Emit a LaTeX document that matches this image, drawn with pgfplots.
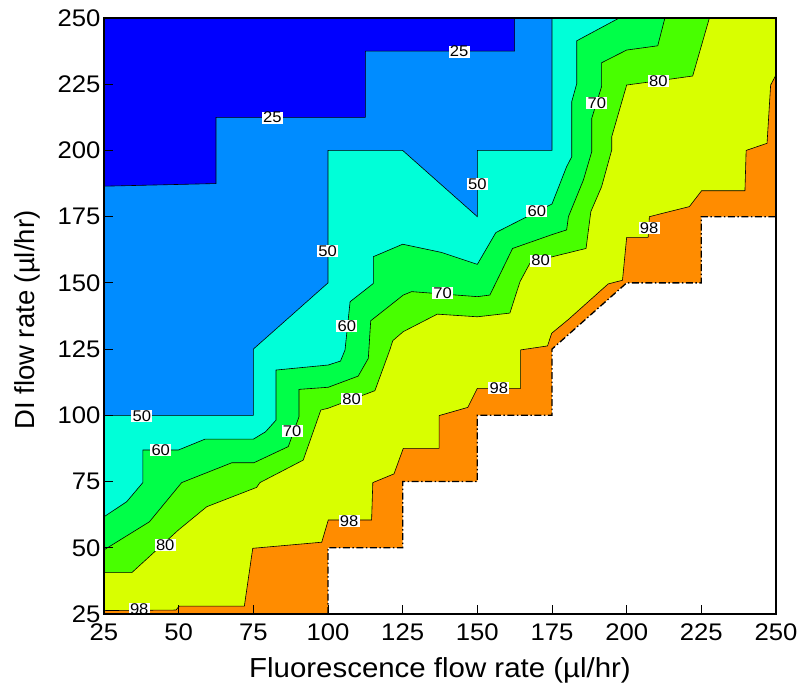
\documentclass[border=0pt]{standalone}
\usepackage{fontspec}
\setmainfont{Liberation Sans}
\newfontfamily\wide[FakeStretch=1.07]{Liberation Sans}
\usepackage{pgfplots}
\pgfplotsset{compat=1.18}
\definecolor{cA}{RGB}{0,0,255}
\definecolor{cB}{RGB}{0,140,255}
\definecolor{cC}{RGB}{0,255,216}
\definecolor{cD}{RGB}{0,255,72}
\definecolor{cE}{RGB}{72,255,0}
\definecolor{cF}{RGB}{216,255,0}
\definecolor{cG}{RGB}{255,140,0}
\begin{document}
\begin{tikzpicture}
\path[use as bounding box] (-104pt,-77pt) rectangle (698pt,614pt);
\begin{axis}[
  at={(0,0)}, anchor=south west,
  scale only axis, width=672pt, height=596pt,
  xmin=25, xmax=250, ymin=25, ymax=250,
  xtick={25,50,...,250}, ytick={25,50,...,250},
  tick align=inside, xtick pos=bottom, ytick pos=left,
  major tick length=9pt,
  axis line style={line width=1.2pt},
  every tick/.style={line width=1pt, black},
  axis on top,
  ticklabel style={font=\wide\fontsize{24}{24}\selectfont},
  xticklabel style={yshift=-6pt},
  /pgf/number format/assume math mode=true,
  xlabel={Fluorescence flow rate (µl/hr)},
  ylabel={DI flow rate (µl/hr)},
  xlabel style={font=\wide\fontsize{27.5}{27.5}\selectfont, at={(axis description cs:0.5,-0.094)}, anchor=center},
  ylabel style={font=\fontsize{27.5}{27.5}\selectfont, at={(axis description cs:-0.114,0.493)}, anchor=center},
  clip=true,
]
% level < 25
\addplot[fill=cA, draw=none] coordinates {(25,25) (250,25) (250,250) (25,250)} -- cycle;
% level 25
\addplot[fill=cB, draw=black, line width=0.6pt] coordinates {
(162.5,250) (162.5,237.5) (112.5,237.5) (112.5,212.5) (62.5,212.5) (62.5,187.5) (25,186.5)
(25,25) (250,25) (250,250)} -- cycle;
% level 50
\addplot[fill=cC, draw=black, line width=0.6pt] coordinates {
(175,250) (175,200) (150,200) (150,175) (125,200) (100,200) (100,150) (75,125) (75,100) (25,100)
(25,25) (250,25) (250,250)} -- cycle;
% level 60
\addplot[fill=cD, draw=black, line width=0.6pt] coordinates {
(197.5,250) (183.3,241.4) (183.3,225.3) (181.6,218.4) (181.6,197.6) (179.9,193.9) (175,179.8)
(156.2,169) (150,157) (138,161.5) (125,164.6) (115.2,159.9) (115.2,149.8) (107.4,142.9)
(105.7,124.7) (104.2,120.5) (100.1,119) (82.6,117.1) (82.6,98.2) (79.1,93.8) (75,91) (58.8,91)
(49.9,86.9) (38,86.9) (38,74.6) (32.6,67.4) (25,61.7)
(25,25) (250,25) (250,250)} -- cycle;
% level 70
\addplot[fill=cE, draw=black, line width=0.6pt] coordinates {
(212.8,250) (210.4,239.5) (200,237.9) (191.6,233.1) (191.6,224.1) (188.3,212.1) (188.3,199.5)
(185.5,188.8) (180.5,175) (179.9,170) (175.2,168.3) (161.8,163) (154.2,145.4) (150,144.8)
(128,146.7) (125.2,145.4) (114.3,135.7) (113.5,121.5) (110.1,114.8) (100.1,110.6) (90.3,109.8)
(90.3,99.5) (86.7,88.2) (75.2,82.1) (67.8,82.1) (51,74.6) (40.2,59.8) (25,49.2)
(25,25) (250,25) (250,250)} -- cycle;
% level 80
\addplot[fill=cF, draw=black, line width=0.6pt] coordinates {
(227.7,250) (222.1,228.1) (210,226.2) (200,224.7) (195,205.2) (195,200.2) (191.6,186.3)
(188,176.9) (186.4,163) (175.2,159.9) (167.6,157.4) (164.3,150.5) (160.9,138.6) (150,137.2)
(136.6,138.2) (125.2,131.6) (121.7,128.2) (120.7,124.7) (115.7,109.3) (100.1,102.7) (97.6,102)
(91.7,83.1) (77.2,74.6) (76.1,72.8) (59.4,65.5) (49.9,56.7) (34.3,40.6) (25,40.6)
(25,25) (250,25) (250,250)} -- cycle;
% level 98
\addplot[fill=cG, draw=black, line width=0.6pt] coordinates {
(250,228.5) (248.2,224.7) (247,202.7) (240,200) (239.6,184.8) (225.1,184.8) (221,178.8)
(207.6,175) (207.2,167.2) (200,167.2) (198.6,151) (193.8,149.6) (180.5,136.2) (174.9,131)
(173.5,126.2) (164.5,124.7) (164.5,110.2) (150,110.2) (146.8,103) (137.2,99.9) (137.2,87.5)
(125.2,87.5) (122.1,77.9) (115,74.6) (114.6,60.5) (100.1,60.5) (97.9,52.1) (74.8,49.8) (72,28)
(50.2,28) (49.1,26.5) (25,26.3)
(25,25) (250,25)} -- cycle;
% outside the measured domain
\addplot[fill=white, draw=none] coordinates {
(100,25) (100,50) (125,50) (125,75) (150,75) (150,100) (175,100) (175,125) (200,150) (225,150)
(225,175) (250,175) (250,25)} -- cycle;
\addplot[black, line width=1.3pt, dash pattern=on 7pt off 2.5pt on 1.5pt off 2.5pt] coordinates {
(100,25) (100,50) (125,50) (125,75) (150,75) (150,100) (175,100) (175,125) (200,150) (225,150)
(225,175) (250,175) (250,228.5)};
% contour labels
\begin{scope}[every node/.style={fill=white, inner xsep=1.3pt, inner ysep=0.5pt, font=\wide\fontsize{15.5}{15.5}\selectfont}]
\node at (axis cs:143.9,237.3) {25};
\node at (axis cs:81.4,212.4) {25};
\node at (axis cs:150,187.3) {50};
\node at (axis cs:99.9,162.1) {50};
\node at (axis cs:37.7,99.7) {50};
\node at (axis cs:169.9,177.2) {60};
\node at (axis cs:106.3,133.7) {60};
\node at (axis cs:44,86.9) {60};
\node at (axis cs:190,218) {70};
\node at (axis cs:138.4,146.1) {70};
\node at (axis cs:88,94.1) {70};
\node at (axis cs:210.6,226.3) {80};
\node at (axis cs:171.2,158.4) {80};
\node at (axis cs:107.9,106.1) {80};
\node at (axis cs:45.5,51) {80};
\node at (axis cs:207.5,170.8) {98};
\node at (axis cs:157.2,110.2) {98};
\node at (axis cs:107.1,60.2) {98};
\node at (axis cs:36.8,26.8) {98};
\end{scope}
\end{axis}
\end{tikzpicture}
\end{document}
